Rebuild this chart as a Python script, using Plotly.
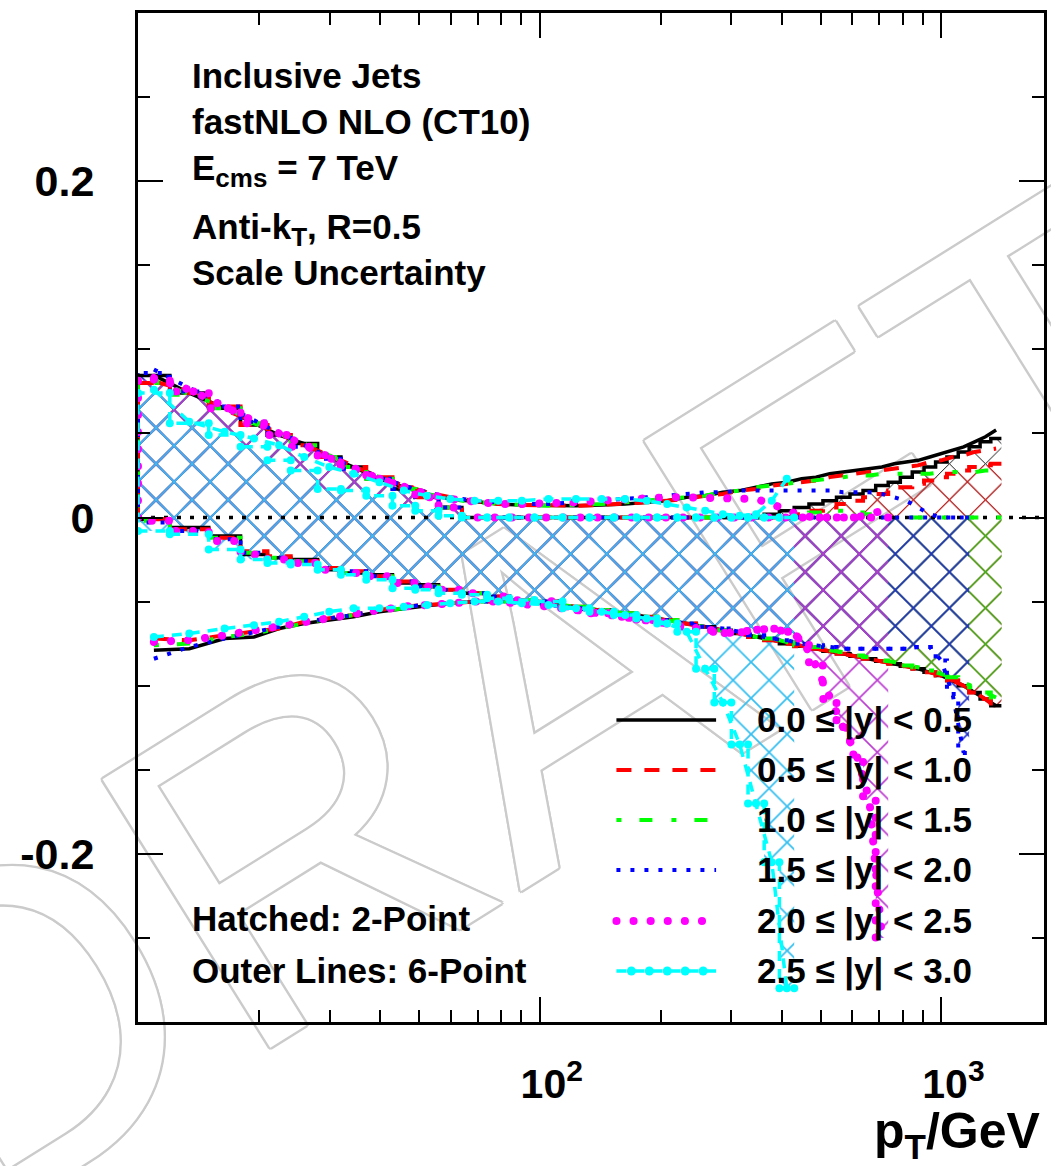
import numpy as np
import plotly.graph_objects as go

# ---------------------------------------------------------------
# pT binning (GeV) shared by all rapidity bins
# ---------------------------------------------------------------
pt_edges = [10, 12, 15, 18, 21, 24, 28, 32, 37, 43, 49, 56, 64, 74, 84, 97,
            114, 133, 153, 174, 196, 220, 245, 272, 300, 330, 362, 395, 430,
            468, 507, 548, 592, 638, 686, 737, 790, 846, 905, 967, 1032, 1101,
            1172, 1248, 1327, 1410]

rap_labels = ["0.0 ≤ |y| < 0.5", "0.5 ≤ |y| < 1.0", "1.0 ≤ |y| < 1.5",
              "1.5 ≤ |y| < 2.0", "2.0 ≤ |y| < 2.5", "2.5 ≤ |y| < 3.0"]

# ---------------------------------------------------------------
# Relative scale uncertainty per pT bin
#   up6/lo6 : 6-point variation envelope (outer lines)
#   up2/lo2 : 2-point variation band (hatched)
# ---------------------------------------------------------------
up6_y0 = [0.0845, 0.074, 0.065, 0.056, 0.049, 0.044, 0.036, 0.030, 0.023, 0.018,
          0.014, 0.011, 0.0095, 0.008, 0.0075, 0.007, 0.007, 0.0075, 0.008, 0.009,
          0.010, 0.012, 0.013, 0.015, 0.016, 0.018, 0.020, 0.021, 0.023, 0.024,
          0.026, 0.027, 0.028, 0.029, 0.030, 0.032, 0.033, 0.034, 0.036, 0.038,
          0.040, 0.042, 0.045, 0.048, 0.052]
lo6_y0 = [-0.079, -0.078, -0.072, -0.071, -0.066, -0.063, -0.061, -0.059, -0.056, -0.054,
          -0.0525, -0.051, -0.050, -0.050, -0.050, -0.051, -0.053, -0.055, -0.057, -0.059,
          -0.061, -0.063, -0.065, -0.067, -0.069, -0.071, -0.073, -0.075, -0.0765, -0.078,
          -0.0795, -0.081, -0.0825, -0.084, -0.0855, -0.087, -0.0885, -0.090, -0.092, -0.094,
          -0.097, -0.100, -0.104, -0.108, -0.112]
up2_y0 = [0.0845, 0.074, 0.065, 0.055, 0.049, 0.044, 0.036, 0.030, 0.023, 0.017,
          0.012, 0.006, 0, 0, 0, 0, 0, 0, 0, 0,
          0, 0, 0, 0, 0, 0, 0.002, 0.004, 0.006, 0.008,
          0.010, 0.012, 0.014, 0.016, 0.019, 0.021, 0.024, 0.027, 0.030, 0.033,
          0.036, 0.039, 0.042, 0.045, 0.047]
lo2_y0 = [-0.001, -0.006, -0.011, -0.022, -0.024, -0.025, -0.031, -0.033, -0.034, -0.039,
          -0.040, -0.043, -0.045, -0.047, -0.049, -0.050, -0.053, -0.055, -0.057, -0.059,
          -0.061, -0.063, -0.065, -0.067, -0.069, -0.071, -0.073, -0.075, -0.0765, -0.078,
          -0.0795, -0.081, -0.0825, -0.084, -0.0855, -0.087, -0.0885, -0.090, -0.092, -0.094,
          -0.097, -0.100, -0.104, -0.108, -0.112]

up6_y1 = [0.081, 0.075, 0.064, 0.057, 0.050, 0.043, 0.037, 0.031, 0.024, 0.019,
          0.015, 0.012, 0.010, 0.008, 0.0075, 0.007, 0.007, 0.0075, 0.008, 0.009,
          0.010, 0.011, 0.013, 0.014, 0.016, 0.017, 0.019, 0.020, 0.021, 0.022,
          0.024, 0.025, 0.026, 0.027, 0.028, 0.029, 0.030, 0.031, 0.033, 0.034,
          0.036, 0.037, 0.039, 0.040, 0.041]
lo6_y1 = [-0.072, -0.073, -0.070, -0.068, -0.066, -0.062, -0.060, -0.058, -0.055, -0.053,
          -0.052, -0.051, -0.050, -0.050, -0.050, -0.051, -0.053, -0.055, -0.057, -0.059,
          -0.061, -0.063, -0.065, -0.067, -0.069, -0.071, -0.073, -0.075, -0.0765, -0.078,
          -0.0795, -0.081, -0.0825, -0.084, -0.0855, -0.087, -0.0885, -0.090, -0.092, -0.094,
          -0.097, -0.100, -0.104, -0.108, -0.113]
up2_y1 = [0.080, 0.074, 0.066, 0.055, 0.049, 0.043, 0.036, 0.030, 0.024, 0.018,
          0.012, 0.006, 0, 0, 0, 0, 0, 0, 0, 0,
          0, 0, 0, 0, 0, 0, 0, 0, 0.002, 0.004,
          0.006, 0.008, 0.010, 0.012, 0.014, 0.016, 0.018, 0.020, 0.022, 0.024,
          0.026, 0.028, 0.030, 0.031, 0.032]
lo2_y1 = [-0.001, -0.007, -0.012, -0.020, -0.023, -0.026, -0.030, -0.032, -0.035, -0.038,
          -0.041, -0.043, -0.045, -0.047, -0.049, -0.050, -0.053, -0.055, -0.057, -0.059,
          -0.061, -0.063, -0.065, -0.067, -0.069, -0.071, -0.073, -0.075, -0.0765, -0.078,
          -0.0795, -0.081, -0.0825, -0.084, -0.0855, -0.087, -0.0885, -0.090, -0.092, -0.094,
          -0.097, -0.100, -0.104, -0.108, -0.113]

up6_y2 = [0.082, 0.073, 0.066, 0.056, 0.050, 0.044, 0.037, 0.030, 0.024, 0.018,
          0.014, 0.011, 0.009, 0.008, 0.0075, 0.007, 0.0075, 0.008, 0.009, 0.010,
          0.011, 0.012, 0.013, 0.015, 0.016, 0.018, 0.019, 0.020, 0.021, 0.022,
          0.023, 0.024, 0.025, 0.025, 0.026, 0.026, 0.026, 0.026, 0.026, 0.027,
          0.027, 0.027, 0.027, 0.028, 0.028]
lo6_y2 = [-0.076, -0.075, -0.071, -0.069, -0.066, -0.063, -0.060, -0.058, -0.056, -0.054,
          -0.052, -0.051, -0.050, -0.050, -0.050, -0.051, -0.053, -0.055, -0.057, -0.059,
          -0.061, -0.063, -0.065, -0.067, -0.069, -0.071, -0.072, -0.074, -0.076, -0.077,
          -0.079, -0.080, -0.082, -0.083, -0.085, -0.086, -0.088, -0.089, -0.091, -0.093,
          -0.095, -0.098, -0.101, -0.104, -0.107]
up2_y2 = [0.080, 0.073, 0.065, 0.056, 0.049, 0.043, 0.036, 0.030, 0.023, 0.017,
          0.012, 0.006, 0, 0, 0, 0, 0, 0, 0, 0,
          0, 0, 0, 0, 0, 0, 0, 0, 0, 0.003,
          0.004, 0.004, 0.003, 0.002, 0, 0, 0, 0, 0, 0,
          0, 0, 0, 0, 0]
lo2_y2 = [-0.002, -0.008, -0.012, -0.021, -0.024, -0.026, -0.030, -0.033, -0.035, -0.039,
          -0.041, -0.043, -0.045, -0.047, -0.049, -0.050, -0.053, -0.055, -0.057, -0.059,
          -0.061, -0.063, -0.065, -0.067, -0.069, -0.071, -0.072, -0.074, -0.076, -0.077,
          -0.079, -0.080, -0.082, -0.083, -0.085, -0.086, -0.088, -0.089, -0.091, -0.093,
          -0.095, -0.098, -0.101, -0.104, -0.107]

up6_y3 = [0.088, 0.077, 0.067, 0.058, 0.050, 0.043, 0.036, 0.030, 0.024, 0.019,
          0.015, 0.012, 0.010, 0.009, 0.008, 0.008, 0.009, 0.010, 0.011, 0.012,
          0.013, 0.014, 0.015, 0.015, 0.016, 0.016, 0.016, 0.016, 0.016, 0.016,
          0.016, 0.015, 0.015, 0.015, 0.014, 0.012, 0.010, 0.006, 0.002, 0.000,
          0.000, 0.000]
lo6_y3 = [-0.084, -0.077, -0.072, -0.068, -0.065, -0.062, -0.060, -0.058, -0.055, -0.053,
          -0.052, -0.051, -0.050, -0.050, -0.051, -0.052, -0.054, -0.056, -0.058, -0.060,
          -0.061, -0.063, -0.065, -0.066, -0.068, -0.070, -0.072, -0.073, -0.075, -0.076,
          -0.077, -0.078, -0.078, -0.078, -0.078, -0.078, -0.078, -0.077, -0.077, -0.085,
          -0.105, -0.140]
up2_y3 = [0.086, 0.075, 0.066, 0.057, 0.049, 0.042, 0.035, 0.029, 0.023, 0.017,
          0.012, 0.006, 0, 0, 0, 0, 0, 0, 0, 0,
          0, 0, 0, 0, 0, 0, 0, 0, 0, 0,
          0, 0, 0, 0, 0, 0, 0, 0, 0, 0,
          0, 0]
lo2_y3 = [-0.003, -0.008, -0.013, -0.021, -0.024, -0.026, -0.030, -0.032, -0.035, -0.038,
          -0.041, -0.043, -0.045, -0.047, -0.049, -0.050, -0.054, -0.056, -0.058, -0.060,
          -0.061, -0.063, -0.065, -0.066, -0.068, -0.070, -0.072, -0.073, -0.075, -0.076,
          -0.077, -0.078, -0.078, -0.078, -0.078, -0.078, -0.078, -0.077, -0.077, -0.085,
          -0.105, -0.140]

up6_y4 = [0.083, 0.076, 0.066, 0.057, 0.050, 0.043, 0.036, 0.029, 0.023, 0.018,
          0.014, 0.011, 0.009, 0.008, 0.008, 0.008, 0.009, 0.010, 0.011, 0.012,
          0.012, 0.012, 0.012, 0.012, 0.012, 0.011, 0.008, 0.004, 0.001, 0.000,
          0.000, 0.000, 0.000, 0.002, 0.004]
lo6_y4 = [-0.074, -0.073, -0.070, -0.067, -0.065, -0.062, -0.060, -0.057, -0.055, -0.053,
          -0.052, -0.051, -0.050, -0.050, -0.051, -0.053, -0.055, -0.057, -0.059, -0.061,
          -0.063, -0.065, -0.067, -0.069, -0.068, -0.067, -0.066, -0.068, -0.072, -0.088,
          -0.108, -0.125, -0.141, -0.168, -0.250]
up2_y4 = [0.082, 0.075, 0.065, 0.056, 0.049, 0.042, 0.035, 0.029, 0.023, 0.017,
          0.012, 0.006, 0, 0, 0, 0, 0, 0, 0, 0,
          0, 0, 0, 0, 0, 0, 0, 0, 0, 0,
          0, 0, 0, 0, 0]
lo2_y4 = [-0.002, -0.008, -0.014, -0.022, -0.025, -0.027, -0.031, -0.033, -0.035, -0.039,
          -0.041, -0.043, -0.045, -0.047, -0.049, -0.050, -0.055, -0.057, -0.059, -0.061,
          -0.063, -0.065, -0.067, -0.069, -0.068, -0.067, -0.066, -0.068, -0.072, -0.088,
          -0.108, -0.125, -0.141, -0.168, -0.250]

up6_y5 = [0.076, 0.057, 0.051, 0.047, 0.043, 0.036, 0.030, 0.026, 0.021, 0.016,
          0.013, 0.011, 0.010, 0.010, 0.010, 0.011, 0.011, 0.011, 0.011, 0.010,
          0.008, 0.006, 0.004, 0.002, 0.001, 0.002, 0.010, 0.023]
lo6_y5 = [-0.071, -0.069, -0.066, -0.064, -0.062, -0.059, -0.056, -0.054, -0.054, -0.053,
          -0.052, -0.051, -0.050, -0.050, -0.051, -0.052, -0.054, -0.056, -0.058, -0.060,
          -0.063, -0.068, -0.090, -0.110, -0.135, -0.170, -0.205, -0.280]
up2_y5 = [0.074, 0.056, 0.049, 0.042, 0.034, 0.028, 0.017, 0.016, 0.013, 0.007,
          0.004, 0.001, 0, 0, 0, 0, 0, 0, 0, 0,
          0, 0, 0, 0, 0, 0, 0, 0]
lo2_y5 = [-0.008, -0.010, -0.019, -0.025, -0.027, -0.028, -0.031, -0.034, -0.037, -0.042,
          -0.043, -0.045, -0.046, -0.048, -0.049, -0.050, -0.054, -0.056, -0.058, -0.060,
          -0.063, -0.068, -0.090, -0.110, -0.135, -0.170, -0.205, -0.280]

up6_all = [up6_y0, up6_y1, up6_y2, up6_y3, up6_y4, up6_y5]
lo6_all = [lo6_y0, lo6_y1, lo6_y2, lo6_y3, lo6_y4, lo6_y5]
up2_all = [up2_y0, up2_y1, up2_y2, up2_y3, up2_y4, up2_y5]
lo2_all = [lo2_y0, lo2_y1, lo2_y2, lo2_y3, lo2_y4, lo2_y5]

# line styles per rapidity bin
line_styles = [
    dict(color="#000000", width=3.5, dash="solid"),
    dict(color="#ff0000", width=4, dash="15px,13px"),
    dict(color="#00ff00", width=4, dash="5px,18px,13px,19px"),
    dict(color="#0000ff", width=4, dash="4px,10px"),
    dict(color="#ff00ff", width=7, dash="7px,11px"),
    dict(color="#00ffff", width=3.5, dash="10px,8px"),
]
# hatch colours; later bands get slightly heavier strokes so they cover earlier ones
hatch_colors = ["#000000", "#e02222", "#38c01c", "#1f2fc8", "#bb3cd0", "#36bff0"]
hatch_solidity = [0.07, 0.08, 0.11, 0.12, 0.125, 0.135]

FONT = "Liberation Sans"
edges = np.array(pt_edges, dtype=float)

fig = go.Figure()


def band_steps(n, up, lo):
    """Step-wise upper and lower edges of a band over the first n bins."""
    e = edges[: n + 1]
    xs = np.repeat(e, 2)[1:-1]
    return xs, np.repeat(np.asarray(up, float), 2), np.repeat(np.asarray(lo, float), 2)


# hatched 2-point bands
for i in range(6):
    n = len(up2_all[i])
    xs, yu, yl = band_steps(n, up2_all[i], lo2_all[i])
    fig.add_trace(go.Scatter(
        x=np.concatenate([xs, xs[::-1], xs[:1]]),
        y=np.concatenate([yu, yl[::-1], yu[:1]]),
        mode="lines", fill="toself", fillcolor="rgba(0,0,0,0)",
        fillpattern=dict(shape="x", fgcolor=hatch_colors[i], bgcolor="rgba(0,0,0,0)",
                         size=25.5, solidity=hatch_solidity[i], fgopacity=1),
        line=dict(width=0), hoverinfo="skip", showlegend=False))

# zero reference line
fig.add_trace(go.Scatter(x=[pt_edges[0], 1800], y=[0, 0], mode="lines",
                         line=dict(color="black", width=3.5, dash="4px,9px"),
                         hoverinfo="skip", showlegend=False))

# outlines of the 2-point bands (open on the high-pT side) and 6-point envelopes
for i in range(6):
    st = line_styles[i]
    n = len(up2_all[i])
    xs, yu, yl = band_steps(n, up2_all[i], lo2_all[i])
    centers = np.sqrt(edges[:n] * edges[1:n + 1])
    mode = "lines+markers" if i == 5 else "lines"
    mk = dict(size=8, color=st["color"]) if i == 5 else None
    fig.add_trace(go.Scatter(x=np.concatenate([xs[::-1], xs]),
                             y=np.concatenate([yu[::-1], yl]),
                             mode=mode, line=st, marker=mk,
                             hoverinfo="skip", showlegend=False))
    for arr in (up6_all[i], lo6_all[i]):
        fig.add_trace(go.Scatter(x=centers, y=arr, mode=mode, line=st, marker=mk,
                                 hoverinfo="skip", showlegend=False))

# ---------------------------------------------------------------
# page geometry (px) of the frame
# ---------------------------------------------------------------
W, H = 1051, 1166
X0, X1 = 138.0, 1047.0
Y0, Y1 = 13.0, 1022.0


def fx(px):
    return (px - X0) / (X1 - X0)


def fy(py):
    return (Y1 - py) / (Y1 - Y0)


# legend samples drawn on a pixel-scaled overlay axis pair
leg_rows = [720, 770, 820, 870, 921, 971]
for i, yrow in enumerate(leg_rows):
    st = line_styles[i]
    fig.add_trace(go.Scatter(x=[618, 718], y=[yrow, yrow], mode="lines", line=st,
                             xaxis="x2", yaxis="y2", hoverinfo="skip", showlegend=False))
    if i == 5:
        fig.add_trace(go.Scatter(x=[633, 651, 669, 687, 705], y=[yrow] * 5, mode="markers",
                                 marker=dict(size=9, color=st["color"]),
                                 xaxis="x2", yaxis="y2", hoverinfo="skip", showlegend=False))

annotations = []
bold = dict(family=FONT, color="black", weight="bold")

info_text = ["Inclusive Jets", "fastNLO NLO (CT10)",
             "E<sub><span style='font-size:26px'>cms</span></sub> = 7 TeV",
             "Anti-k<sub><span style='font-size:26px'>T</span></sub>, R=0.5",
             "Scale Uncertainty"]
info_y = [76, 121, 170, 229, 273]
for t, yy in zip(info_text, info_y):
    annotations.append(dict(text=t, x=fx(190), y=fy(yy), xref="paper", yref="paper",
                            xanchor="left", yanchor="middle", showarrow=False,
                            font=dict(size=35, **bold)))

for t, yy in zip(["Hatched: 2-Point", "Outer Lines: 6-Point"], [918, 970]):
    annotations.append(dict(text=t, x=fx(190), y=fy(yy), xref="paper", yref="paper",
                            xanchor="left", yanchor="middle", showarrow=False,
                            font=dict(size=35, **bold)))

for t, yy in zip(rap_labels, leg_rows):
    annotations.append(dict(text=t, x=fx(757), y=fy(yy), xref="paper", yref="paper",
                            xanchor="left", yanchor="middle", showarrow=False,
                            font=dict(size=35, **bold)))

annotations.append(dict(text="p<sub>T</sub>/GeV", x=fx(1046), y=fy(1134),
                        xref="paper", yref="paper", xanchor="right", yanchor="middle",
                        showarrow=False, font=dict(size=50, **bold)))

# faint outlined watermark behind the plot
outline = "#cbcbcb"
shadow = ", ".join(f"{dx}px {dy}px 0 {outline}" for dx, dy in
                   [(2.4, 0), (-2.4, 0), (0, 2.4), (0, -2.4), (1.7, 1.7), (-1.7, -1.7),
                    (1.7, -1.7), (-1.7, 1.7)])
wm_cx, wm_cy = 500, 665
shapes = [dict(type="rect", xref="paper", yref="paper",
               x0=fx(wm_cx - 5), x1=fx(wm_cx + 5), y0=fy(wm_cy + 5), y1=fy(wm_cy - 5),
               line=dict(width=0), fillcolor="rgba(0,0,0,0)", layer="below",
               label=dict(text="DRAFT", textangle=-32, textposition="middle center",
                          font=dict(family=FONT, size=460, color="white", shadow=shadow)))]

axis_common = dict(showline=True, linewidth=3, linecolor="black", mirror="allticks",
                   ticks="inside", ticklen=25, tickwidth=2, tickcolor="black",
                   showgrid=False, zeroline=False)

fig.update_layout(
    width=W, height=H,
    margin=dict(l=X0, r=W - X1, t=Y0, b=H - Y1),
    paper_bgcolor="white", plot_bgcolor="rgba(0,0,0,0)",
    showlegend=False, hovermode=False,
    font=dict(family=FONT),
    xaxis=dict(type="log", range=[1.0, np.log10(1800)],
               tickmode="array", tickvals=[100, 1000],
               ticktext=["10<sup><span style='font-size:30px'>2</span></sup>",
                         "10<sup><span style='font-size:30px'>3</span></sup>"],
               tickfont=dict(size=41, **bold), ticklabelstandoff=24, ticklabelshift=12,
               minor=dict(tickmode="array",
                          tickvals=[20, 30, 40, 50, 60, 70, 80, 90,
                                    200, 300, 400, 500, 600, 700, 800, 900],
                          ticks="inside", ticklen=12, tickwidth=2, tickcolor="black",
                          showgrid=False),
               **axis_common),
    yaxis=dict(range=[-0.3, 0.3], tickmode="array", tickvals=[-0.2, 0, 0.2],
               ticktext=["-0.2", "0", "0.2"],
               tickfont=dict(size=43, **bold), ticklabelstandoff=32,
               minor=dict(dtick=0.05, ticks="inside", ticklen=12, tickwidth=2,
                          tickcolor="black", showgrid=False),
               **axis_common),
    xaxis2=dict(overlaying="x", range=[X0, X1], visible=False),
    yaxis2=dict(overlaying="y", range=[Y1, Y0], visible=False),
    annotations=annotations,
    shapes=shapes,
)

# draw the 2.0-2.5 dotted style with round dots
round_dots = """
var gd = document.getElementById('{plot_id}');
function roundDots() {
  gd.querySelectorAll('path.js-line').forEach(function (p) {
    if (p.style.stroke === 'rgb(255, 0, 255)') {
      p.style.strokeLinecap = 'round';
      p.style.strokeDasharray = '0.1px, 17px';
      p.style.strokeWidth = '8px';
    }
  });
}
roundDots();
gd.on('plotly_afterplot', roundDots);
"""

fig.write_html("out.html", post_script=round_dots)
